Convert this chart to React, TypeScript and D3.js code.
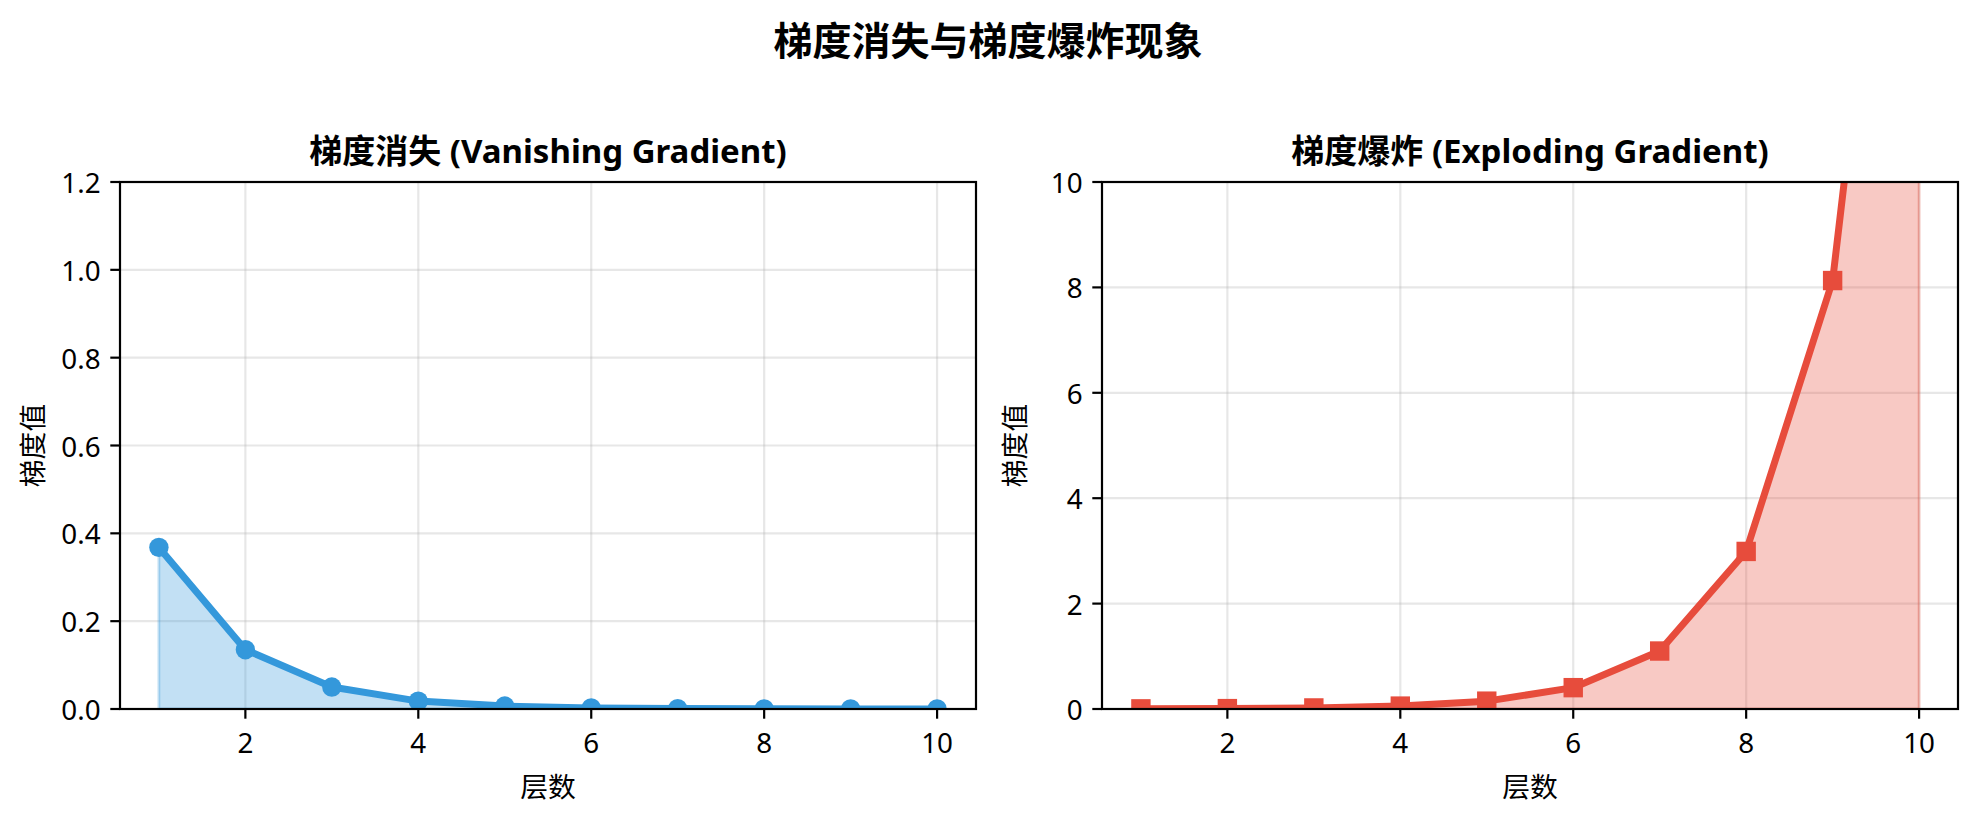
import { area, line, scaleLinear } from "d3";

const layers = [1, 2, 3, 4, 5, 6, 7, 8, 9, 10];
const vanishing = [0.368, 0.135, 0.05, 0.018, 0.0067, 0.0025, 0.0009, 0.0003, 0.0001, 0.00005];
const exploding = [0.0027, 0.0074, 0.02, 0.055, 0.149, 0.405, 1.1, 2.99, 8.13, 22.1];
const xTicks = [2, 4, 6, 8, 10];
const vanishingTicks = [0, 0.2, 0.4, 0.6, 0.8, 1.0, 1.2];
const explodingTicks = [0, 2, 4, 6, 8, 10];

const FONT = "'Noto Sans', 'Noto Sans CJK SC', sans-serif";
const width = 1977;
const height = 821;
const top = 182;
const bottom = 709;
const panelW = 856;

type PanelProps = {
  id: string;
  left: number;
  title: string;
  values: number[];
  yMax: number;
  yTicks: number[];
  fmt: (v: number) => string;
  color: string;
  marker: "circle" | "square";
};

function Panel({ id, left, title, values, yMax, yTicks, fmt, color, marker }: PanelProps) {
  const right = left + panelW;
  const x = scaleLinear().domain([0.55, 10.45]).range([left, right]);
  const y = scaleLinear().domain([0, yMax]).range([bottom, top]);
  const pts = layers.map((l, i) => ({ l, v: values[i] }));

  const path = line<{ l: number; v: number }>()
    .x((d) => x(d.l))
    .y((d) => y(d.v));
  const fill = area<{ l: number; v: number }>()
    .x((d) => x(d.l))
    .y0(y(0))
    .y1((d) => y(d.v));

  const grid = "rgba(176,176,176,0.3)";
  const ms = 19.4;

  return (
    <g>
      <defs>
        <clipPath id={id}>
          <rect x={left} y={top} width={panelW} height={bottom - top} />
        </clipPath>
      </defs>

      {xTicks.map((t) => (
        <line key={`gx-${t}`} x1={x(t)} x2={x(t)} y1={top} y2={bottom} stroke={grid} strokeWidth={2.2} />
      ))}
      {yTicks.map((t) => (
        <line key={`gy-${t}`} x1={left} x2={right} y1={y(t)} y2={y(t)} stroke={grid} strokeWidth={2.2} />
      ))}

      <g clipPath={`url(#${id})`}>
        <path d={fill(pts) ?? ""} fill={color} fillOpacity={0.3} stroke={color} strokeOpacity={0.3} strokeWidth={2.8} />
        <path d={path(pts) ?? ""} fill="none" stroke={color} strokeWidth={7} strokeLinejoin="round" />
        {pts.map((d) =>
          marker === "circle" ? (
            <circle key={d.l} cx={x(d.l)} cy={y(d.v)} r={ms / 2} fill={color} />
          ) : (
            <rect key={d.l} x={x(d.l) - ms / 2} y={y(d.v) - ms / 2} width={ms} height={ms} fill={color} />
          )
        )}
      </g>

      <rect x={left} y={top} width={panelW} height={bottom - top} fill="none" stroke="#000" strokeWidth={2.2} />

      {xTicks.map((t) => (
        <g key={`tx-${t}`}>
          <line x1={x(t)} x2={x(t)} y1={bottom} y2={bottom + 9.7} stroke="#000" strokeWidth={2.2} />
          <text x={x(t)} y={753} textAnchor="middle" fontSize={27.8} fontFamily={FONT} fill="#000">
            {t}
          </text>
        </g>
      ))}
      {yTicks.map((t) => (
        <g key={`ty-${t}`}>
          <line x1={left - 9.7} x2={left} y1={y(t)} y2={y(t)} stroke="#000" strokeWidth={2.2} />
          <text
            x={left - 19.4}
            y={y(t)}
            textAnchor="end"
            dominantBaseline="central"
            fontSize={27.8}
            fontFamily={FONT}
            fill="#000"
          >
            {fmt(t)}
          </text>
        </g>
      ))}

      <text x={(left + right) / 2} y={163} textAnchor="middle" fontSize={33} fontWeight="bold" fontFamily={FONT} fill="#000">
        {title}
      </text>
      <text
        x={(left + right) / 2}
        y={786}
        textAnchor="middle"
        dominantBaseline="central"
        fontSize={27.8}
        fontFamily={FONT}
        fill="#000"
      >
        层数
      </text>
      <text
        transform={`translate(${left - 88},${(top + bottom) / 2}) rotate(-90)`}
        textAnchor="middle"
        dominantBaseline="central"
        fontSize={27.8}
        fontFamily={FONT}
        fill="#000"
      >
        梯度值
      </text>
    </g>
  );
}

export default function App() {
  return (
    <svg
      width={width}
      height={height}
      viewBox={`0 0 ${width} ${height}`}
      style={{ position: "absolute", left: 0, top: 0, background: "#fff" }}
    >
      <rect width={width} height={height} fill="#fff" />
      <text
        x={988}
        y={39}
        textAnchor="middle"
        dominantBaseline="central"
        fontSize={39}
        fontWeight="bold"
        fontFamily={FONT}
        fill="#000"
      >
        梯度消失与梯度爆炸现象
      </text>
      <Panel
        id="clip-left"
        left={120}
        title="梯度消失 (Vanishing Gradient)"
        values={vanishing}
        yMax={1.2}
        yTicks={vanishingTicks}
        fmt={(v) => v.toFixed(1)}
        color="#3498db"
        marker="circle"
      />
      <Panel
        id="clip-right"
        left={1102}
        title="梯度爆炸 (Exploding Gradient)"
        values={exploding}
        yMax={10}
        yTicks={explodingTicks}
        fmt={(v) => String(v)}
        color="#e74c3c"
        marker="square"
      />
    </svg>
  );
}
